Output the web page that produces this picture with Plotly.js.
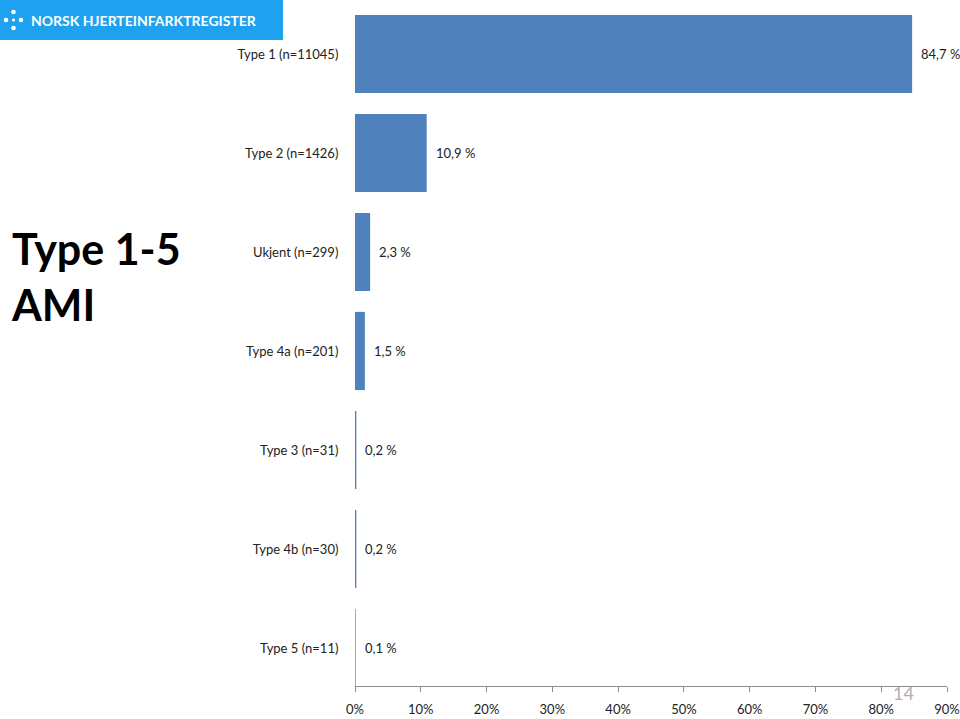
<!DOCTYPE html>
<html>
<head>
<meta charset="utf-8">
<script src="https://cdn.plot.ly/plotly-3.0.1.min.js"></script>
<style>
  html, body { margin: 0; padding: 0; background: #fff; }
  #chart { width: 960px; height: 719px; }
</style>
</head>
<body>
<div id="chart"></div>
<script>
// categories and shares (%)
const categories = [
  "Type 1 (n=11045)",
  "Type 2 (n=1426)",
  "Ukjent (n=299)",
  "Type 4a (n=201)",
  "Type 3 (n=31)",
  "Type 4b (n=30)",
  "Type 5 (n=11)",
];
const shares = [84.7, 10.9, 2.3, 1.5, 0.2, 0.2, 0.1];
const tickVals = [0, 10, 20, 30, 40, 50, 60, 70, 80, 90];
const tickText = tickVals.map((v) => v + "%");

const font = "Lato, 'Open Sans', sans-serif";

// value labels, "84,7 %" style
const labels = shares.map((v) => v.toFixed(1).replace(".", ",") + " %");

const trace = {
  type: "bar",
  orientation: "h",
  x: shares,
  y: categories,
  marker: { color: "#4f81bd" },
  hoverinfo: "none",
};

const valueNotes = shares.map((v, i) => ({
  x: v,
  y: categories[i],
  xref: "x",
  yref: "y",
  text: labels[i],
  showarrow: false,
  xanchor: "left",
  xshift: 7,
  font: { family: font, size: 13, color: "#222" },
}));

const layout = {
  width: 960,
  height: 719,
  margin: { l: 0, r: 0, t: 0, b: 0 },
  paper_bgcolor: "#fff",
  plot_bgcolor: "#fff",
  showlegend: false,
  bargap: 0.21,
  xaxis: {
    domain: [355 / 960, 947 / 960],
    range: [0, 90],
    tickvals: tickVals,
    ticktext: tickText,
    showgrid: false,
    zeroline: false,
    showline: true,
    linecolor: "#8c8c8c",
    linewidth: 1,
    ticks: "outside",
    ticklen: 5,
    tickcolor: "#8c8c8c",
    ticklabelstandoff: 6,
    tickfont: { family: font, size: 13, color: "#222" },
    fixedrange: true,
  },
  yaxis: {
    domain: [(719 - 686) / 719, (719 - 4.5) / 719],
    type: "category",
    range: [6.384, -0.5],
    showgrid: false,
    zeroline: false,
    showline: false,
    ticks: "outside",
    ticklen: 13,
    tickcolor: "rgba(0,0,0,0)",
    tickfont: { family: font, size: 13, color: "#222" },
    fixedrange: true,
  },
  shapes: [
    // logo banner
    { type: "rect", xref: "paper", yref: "paper",
      x0: 0, x1: 283 / 960, y0: 1 - 40 / 719, y1: 1,
      fillcolor: "#1ea2f0", line: { width: 0 } },
  ].concat(
    [[6, 20, 2.3], [21, 20, 2.3], [13.5, 12, 2.3], [13.5, 28, 2.3], [13.5, 20, 1.6]].map((d) => ({
      type: "circle", xref: "paper", yref: "paper",
      x0: (d[0] - d[2]) / 960, x1: (d[0] + d[2]) / 960,
      y0: 1 - (d[1] + d[2]) / 719, y1: 1 - (d[1] - d[2]) / 719,
      fillcolor: "#fff", line: { width: 0 },
    }))
  ),
  annotations: valueNotes.concat([
    {
      xref: "paper", yref: "paper",
      x: 29 / 960, y: 1 - 20 / 719,
      xanchor: "left", yanchor: "middle",
      text: "<b>NORSK HJERTEINFARKTREGISTER</b>",
      showarrow: false,
      font: { family: "Lato, sans-serif", size: 14, color: "#fff" },
    },
    {
      xref: "paper", yref: "paper",
      x: 9 / 960, y: 1 - 276 / 719,
      xanchor: "left", yanchor: "middle",
      align: "left",
      text: "<b>Type 1-5<br>AMI</b>",
      showarrow: false,
      font: { family: font, size: 43, color: "#000" },
    },
    {
      xref: "paper", yref: "paper",
      x: 903 / 960, y: 1 - 693 / 719,
      xanchor: "center", yanchor: "middle",
      text: "14",
      showarrow: false,
      font: { family: font, size: 18, color: "#b0b0b0" },
    },
  ]),
};

Plotly.newPlot("chart", [trace], layout, { displayModeBar: false, staticPlot: true });
</script>
</body>
</html>
